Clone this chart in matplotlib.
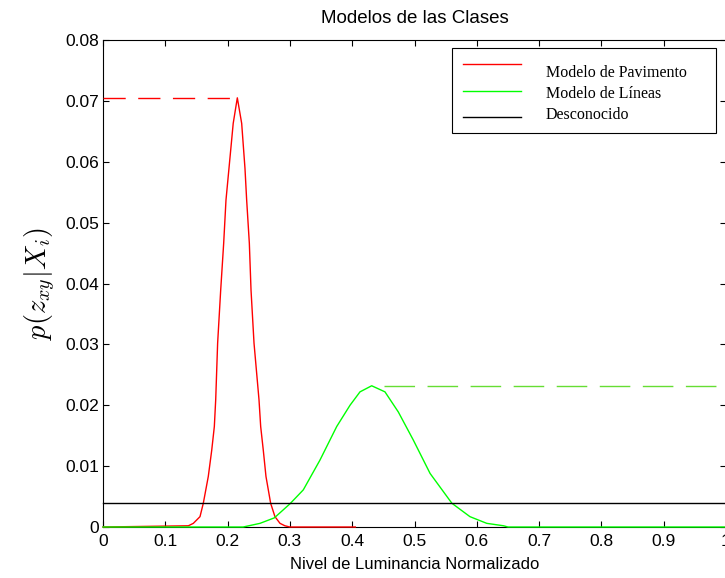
import matplotlib
matplotlib.use("Agg")
import matplotlib.pyplot as plt
from matplotlib.lines import Line2D
from matplotlib.patches import Rectangle

plt.rcParams['mathtext.fontset'] = 'cm'

# Data
pav_x = [0.0, 0.137, 0.145, 0.1557, 0.161, 0.169, 0.1745, 0.1787, 0.1809, 0.184,
         0.1889, 0.1937, 0.1974, 0.2022, 0.209, 0.2156, 0.2226, 0.2279, 0.2306,
         0.2349, 0.2376, 0.2424, 0.2504, 0.2531, 0.2573, 0.2616, 0.2691, 0.276,
         0.2841, 0.292, 0.30, 0.405]
pav_y = [0.0, 0.0002, 0.0006, 0.0017, 0.0039, 0.0083, 0.0126, 0.0165, 0.0209, 0.0302,
         0.0389, 0.0466, 0.0537, 0.0589, 0.0663, 0.0705, 0.0663, 0.0589, 0.0537,
         0.0466, 0.0389, 0.0302, 0.0209, 0.0165, 0.0126, 0.0083, 0.0039, 0.0017,
         0.0006, 0.0002, 0.0, 0.0]

lin_x = [0.0, 0.225, 0.252, 0.275, 0.300, 0.3215, 0.3483, 0.3751, 0.3965, 0.4125,
         0.4313, 0.4526, 0.474, 0.498, 0.525, 0.56, 0.589, 0.616, 0.643, 0.65, 1.0]
lin_y = [0.0, 0.0, 0.0006, 0.0015, 0.0038, 0.0061, 0.011, 0.0165, 0.020, 0.0222,
         0.0232, 0.0222, 0.0189, 0.0143, 0.0088, 0.0039, 0.0017, 0.0006, 0.0002, 0.0, 0.0]

desc_x = [0.0, 1.0]
desc_y = [0.004, 0.004]

pav_peak = (0.2156, 0.0705)
lin_peak = (0.4313, 0.0232)

legend_labels = ["Modelo de Pavimento", "Modelo de Líneas", "Desconocido"]
colors = ["#ff0000", "#00ff00", "#000000"]

fig = plt.figure(figsize=(7.25, 5.78), dpi=100)
W, H = 725, 578
left, right, top, bottom = 103, 726, 40, 527
ax = fig.add_axes([left / W, 1 - bottom / H, (right - left) / W, (bottom - top) / H])

tick_font = ['Liberation Sans Narrow', 'Liberation Sans', 'DejaVu Sans']

ax.plot(pav_x, pav_y, color=colors[0], lw=1.0, zorder=3, clip_on=False)
ax.plot(lin_x, lin_y, color=colors[1], lw=1.0, zorder=3, clip_on=False)
ax.plot(desc_x, desc_y, color=colors[2], lw=1.0, zorder=3, clip_on=False)

ax.plot([0, pav_peak[0]], [pav_peak[1], pav_peak[1]], color=colors[0], lw=1.0,
        dashes=(16, 9), zorder=3)
ax.plot([lin_peak[0] + 0.02, 1.0], [lin_peak[1], lin_peak[1]], color='#66dd33', lw=1.0,
        dashes=(22, 9), zorder=3)

ax.set_xlim(0, 1)
ax.set_ylim(0, 0.08)
ax.set_xticks([0, 0.1, 0.2, 0.3, 0.4, 0.5, 0.6, 0.7, 0.8, 0.9, 1])
ax.set_xticklabels(['0', '0.1', '0.2', '0.3', '0.4', '0.5', '0.6', '0.7', '0.8', '0.9', '1'])
ax.set_yticks([0, 0.01, 0.02, 0.03, 0.04, 0.05, 0.06, 0.07, 0.08])
ax.set_yticklabels(['0', '0.01', '0.02', '0.03', '0.04', '0.05', '0.06', '0.07', '0.08'])
ax.tick_params(direction='in', length=4.5, width=0.8, top=True, right=True,
               labelsize=12.5, color='black')
ax.tick_params(axis='y', pad=3)
ax.tick_params(axis='x', pad=5)
for lab in ax.get_xticklabels() + ax.get_yticklabels():
    lab.set_family(tick_font)
for s in ax.spines.values():
    s.set_linewidth(0.8)

ax.set_title("Modelos de las Clases", family=tick_font, fontsize=13.5, pad=12)
ax.set_xlabel("Nivel de Luminancia Normalizado", family=tick_font, fontsize=12, labelpad=6)
ax.set_ylabel(r"$p(z_{xy}|X_i)$", fontsize=20.5, labelpad=6)

# Legend drawn manually in axes coordinates
ax.add_patch(Rectangle((0.560, 0.809), 0.424, 0.1746, transform=ax.transAxes,
                       facecolor='white', edgecolor='black', lw=0.8, zorder=5))
line_y = [0.9507, 0.8953, 0.8419]
text_y = [0.9234, 0.8803, 0.8372]
for lab, c, ly, ty in zip(legend_labels, colors, line_y, text_y):
    ax.add_line(Line2D([0.578, 0.671], [ly, ly], transform=ax.transAxes, color=c,
                       lw=1.0, zorder=6))
    ax.text(0.711, ty, lab, transform=ax.transAxes, family='Liberation Serif',
            fontsize=11.5, va='baseline', ha='left', zorder=6)

fig.savefig("out.png", dpi=100)
